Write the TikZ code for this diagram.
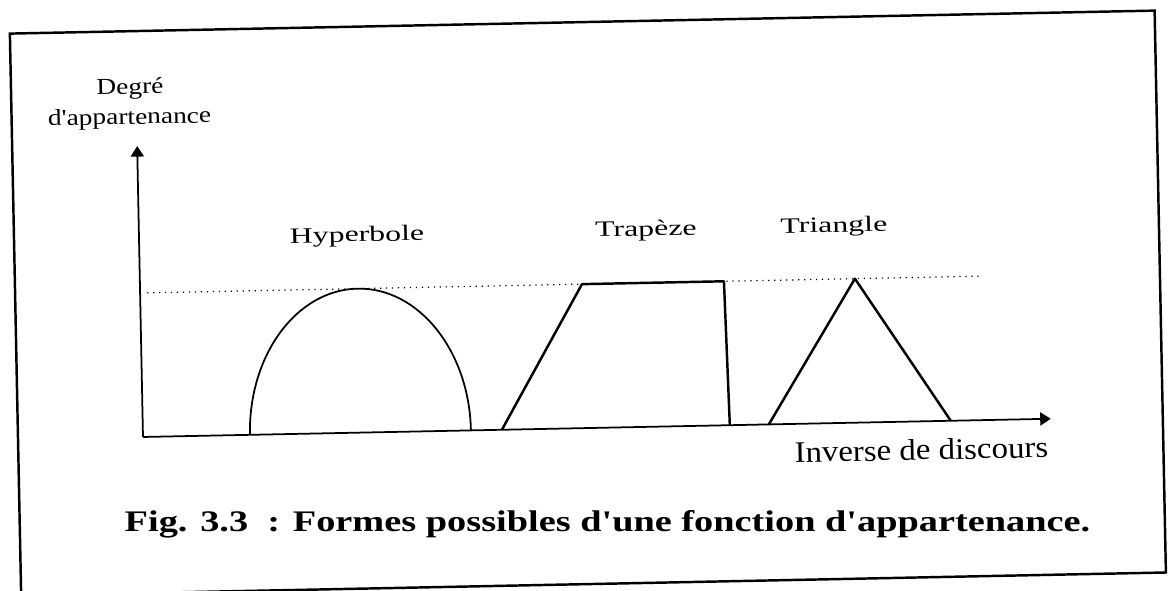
\documentclass[tikz,border=0pt]{standalone}
\usepackage{fontspec}
\setmainfont{Liberation Serif}
\usetikzlibrary{arrows.meta}

\tikzset{
	axisarrow/.style={line width=1pt, -{Triangle[length=6pt, width=7.5pt]}},
	curve/.style={line width=1pt},
	edgeline/.style={line width=1.4pt, line join=round},
	dotline/.style={line width=0.7pt, dash pattern=on 0.7pt off 2.7pt},
	lbl/.style={font=\fontsize{12.5}{15}\selectfont, xscale=1.45, inner sep=0pt, anchor=base},
	ylbl/.style={font=\fontsize{13}{15}\selectfont, xscale=1.2, inner sep=0pt, anchor=base},
	xlbl/.style={font=\fontsize{17}{20}\selectfont, xscale=1.1, inner sep=0pt, anchor=base},
	figcap/.style={font=\bfseries\fontsize{17}{20}\selectfont, xscale=1.283, inner sep=0pt, anchor=base}
}

\begin{document}
\begin{tikzpicture}[x=0.02cm, y=-0.02cm]
	\useasboundingbox (0,0) rectangle (1174,591);
	\begin{scope}[rotate around={1.15:(143,437)}, transform shape]

		% Frame
		\draw[line width=1.4pt] (18,31) rectangle (1163,593);

		% Axes
		\coordinate (O) at (143,437);
		\coordinate (ytip) at (143,146);
		\coordinate (xtip) at (1051,437);
		\draw[axisarrow] (O) -- (ytip);
		\draw[axisarrow] (O) -- (xtip);
		\node[ylbl] (deg) at (137,94) {Degré};
		\node[ylbl] (app) at (136,124) {d\textquotesingle appartenance};
		\node[xlbl] (univ) at (921,475.5) {Inverse de discours};

		% Level 1
		\coordinate (d0) at (150,293);
		\coordinate (d1) at (985,293);
		\draw[dotline] (d0) -- (d1);

		% Hyperbole
		\coordinate (h0) at (250,437);
		\draw[curve] (h0) arc[start angle=180, end angle=360, x radius=110.5, y radius=144];
		\node[lbl] (hyp) at (361,246) {Hyperbole};

		% Trapeze
		\coordinate (t0) at (502,437);
		\coordinate (t1) at (585,293);
		\coordinate (t2) at (727,293);
		\coordinate (t3) at (730,437);
		\draw[edgeline] (t0) -- (t1) -- (t2) -- (t3);
		\node[lbl] (trap) at (650,246) {Trapèze};

		% Triangle
		\coordinate (r0) at (769,437);
		\coordinate (r1) at (858,293);
		\coordinate (r2) at (951,437);
		\draw[edgeline] (r0) -- (r1) -- (r2);
		\node[lbl] (tri) at (838,246) {Triangle};

	\end{scope}

	% Caption
	\node[figcap] (cap) at (607.5,531) {Fig. 3.3~~: Formes possibles d\textquotesingle une fonction d\textquotesingle appartenance.};
\end{tikzpicture}
\end{document}
